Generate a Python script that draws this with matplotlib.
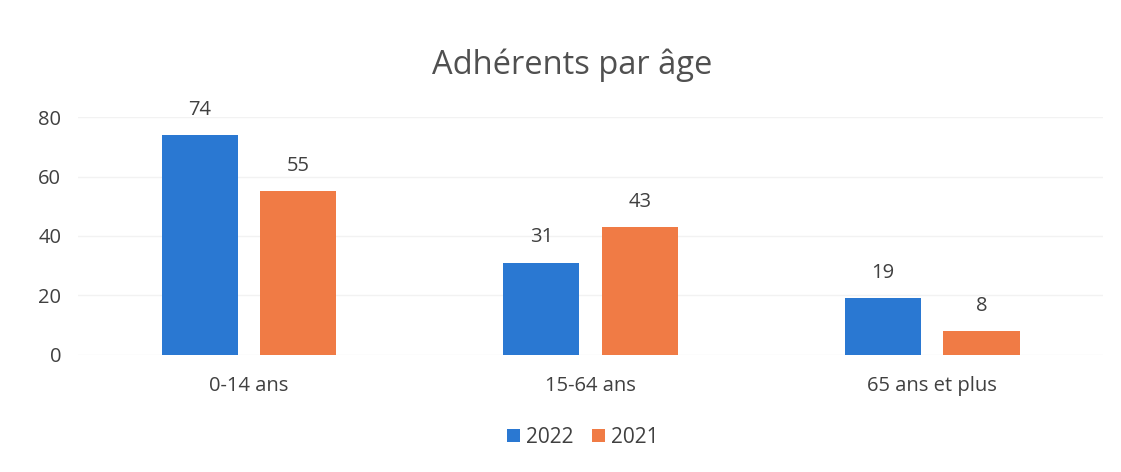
import matplotlib
matplotlib.use("Agg")
import matplotlib.pyplot as plt
import numpy as np

categories = ["0-14 ans", "15-64 ans", "65 ans et plus"]
series_names = ["2022", "2021"]
values_2022 = [74, 31, 19]
values_2021 = [55, 43, 8]
yticks = [0, 20, 40, 60, 80]

plt.rcParams['font.family'] = ['Open Sans', 'DejaVu Sans']
txt = "#404040"

fig = plt.figure(figsize=(11.21, 4.72), dpi=100)
ax = fig.add_axes([0.0696, 0.248, 0.9144, 0.504])

x = np.arange(len(categories))
w = 0.223
off = 0.144
b1 = ax.bar(x - off, values_2022, w, color="#2A78D2", label=series_names[0], zorder=2)
b2 = ax.bar(x + off, values_2021, w, color="#F07B45", label=series_names[1], zorder=2)
for bars in (b1, b2):
    for r in bars:
        ax.annotate(f"{int(r.get_height())}", (r.get_x() + r.get_width()/2, r.get_height()),
                    xytext=(0, 11), textcoords="offset points", ha="center", va="bottom",
                    fontsize=14.5, color=txt, clip_on=False)

ax.set_xlim(-0.5, 2.5)
ax.set_ylim(0, 80)
ax.set_yticks(yticks)
ax.set_xticks(x)
ax.set_xticklabels(categories)
ax.tick_params(axis="both", length=0, labelsize=14.5, labelcolor=txt)
ax.tick_params(axis="y", pad=12)
ax.tick_params(axis="x", pad=15)
ax.grid(axis="y", color="#F2F2F2", linewidth=1, zorder=0)
for s in ax.spines.values():
    s.set_visible(False)

fig.suptitle("Adhérents par âge", x=0.51, y=0.898, fontsize=23.5, color="#505050")
fig.legend(handles=[b1, b2], loc="center", bbox_to_anchor=(0.52, 0.073), ncol=2, frameon=False,
           fontsize=15, handlelength=0.6, handleheight=0.6, handletextpad=0.3, columnspacing=0.9,
           labelcolor=txt)

fig.savefig("out.png", dpi=100)
